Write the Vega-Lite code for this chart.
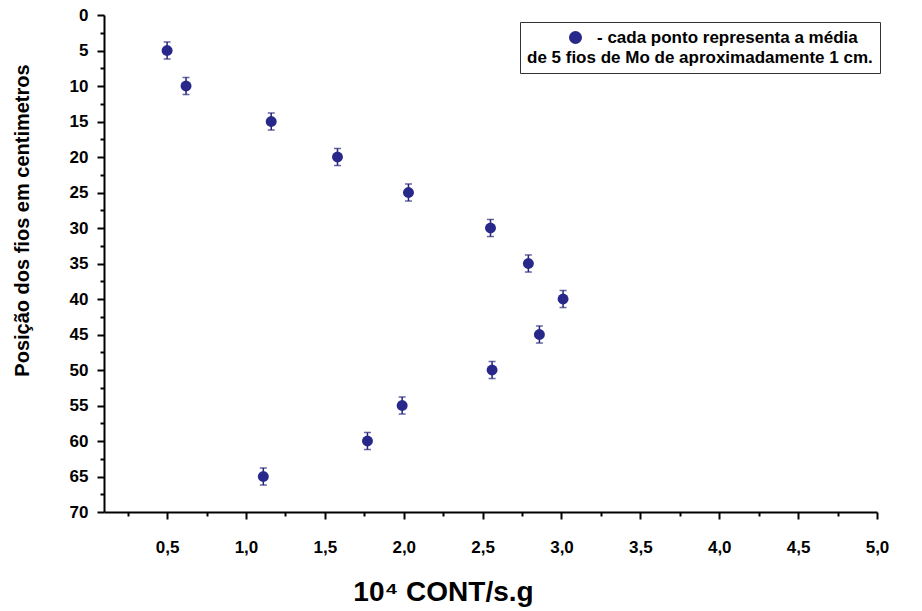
{
  "$schema": "https://vega.github.io/schema/vega-lite/v6.json",
  "width": 773,
  "height": 497,
  "autosize": {"type": "none"},
  "padding": {"left": 104, "top": 15, "right": 45, "bottom": 99},
  "background": "white",
  "config": {"view": {"stroke": null}, "font": "Liberation Sans"},
  "data": {
    "values": [
      {"cont": 0.5, "pos": 5, "err": 1.2, "serie": "- cada ponto representa a média"},
      {"cont": 0.62, "pos": 10, "err": 1.2, "serie": "- cada ponto representa a média"},
      {"cont": 1.16, "pos": 15, "err": 1.2, "serie": "- cada ponto representa a média"},
      {"cont": 1.58, "pos": 20, "err": 1.2, "serie": "- cada ponto representa a média"},
      {"cont": 2.03, "pos": 25, "err": 1.2, "serie": "- cada ponto representa a média"},
      {"cont": 2.55, "pos": 30, "err": 1.2, "serie": "- cada ponto representa a média"},
      {"cont": 2.79, "pos": 35, "err": 1.2, "serie": "- cada ponto representa a média"},
      {"cont": 3.01, "pos": 40, "err": 1.2, "serie": "- cada ponto representa a média"},
      {"cont": 2.86, "pos": 45, "err": 1.2, "serie": "- cada ponto representa a média"},
      {"cont": 2.56, "pos": 50, "err": 1.2, "serie": "- cada ponto representa a média"},
      {"cont": 1.99, "pos": 55, "err": 1.2, "serie": "- cada ponto representa a média"},
      {"cont": 1.77, "pos": 60, "err": 1.2, "serie": "- cada ponto representa a média"},
      {"cont": 1.11, "pos": 65, "err": 1.2, "serie": "- cada ponto representa a média"}
    ]
  },
  "encoding": {
    "x": {
      "field": "cont",
      "type": "quantitative",
      "scale": {"domain": [0.1, 5.0], "nice": false, "zero": false},
      "axis": {
        "title": "10⁴ CONT/s.g",
        "titleFont": "Liberation Sans",
        "titleFontSize": 28,
        "titleFontWeight": "bold",
        "titleColor": "black",
        "titleX": 339,
        "titleY": 88,
        "titleAlign": "center",
        "titleBaseline": "alphabetic",
        "values": [0.25, 0.5, 0.75, 1.0, 1.25, 1.5, 1.75, 2.0, 2.25, 2.5, 2.75, 3.0, 3.25, 3.5, 3.75, 4.0, 4.25, 4.5, 4.75, 5.0],
        "labelExpr": "datum.value % 0.5 === 0 ? replace(format(datum.value, '.1f'), '.', ',') : ''",
        "labelFont": "Liberation Sans",
        "labelFontSize": 17,
        "labelFontWeight": "bold",
        "labelColor": "black",
        "labelPadding": 20,
        "labelOverlap": false,
        "labelBound": false,
        "labelFlush": false,
        "grid": false,
        "domainColor": "black",
        "domainWidth": 2,
        "tickColor": "black",
        "tickWidth": 2,
        "tickSize": {"condition": {"test": "datum.value % 0.5 === 0", "value": 7}, "value": 4}
      }
    },
    "y": {
      "field": "pos",
      "type": "quantitative",
      "scale": {"domain": [0, 70], "reverse": true, "nice": false, "zero": false},
      "axis": {
        "title": "Posição dos fios em centimetros",
        "titleFont": "Liberation Sans",
        "titleFontSize": 20,
        "titleFontWeight": "bold",
        "titleColor": "black",
        "titleX": -82,
        "titleY": 205,
        "titleAlign": "center",
        "titleBaseline": "middle",
        "titleAngle": 270,
        "values": [0, 2.5, 5, 7.5, 10, 12.5, 15, 17.5, 20, 22.5, 25, 27.5, 30, 32.5, 35, 37.5, 40, 42.5, 45, 47.5, 50, 52.5, 55, 57.5, 60, 62.5, 65, 67.5, 70],
        "labelExpr": "datum.value % 5 === 0 ? format(datum.value, 'd') : ''",
        "labelFont": "Liberation Sans",
        "labelFontSize": 17,
        "labelFontWeight": "bold",
        "labelColor": "black",
        "labelPadding": 9,
        "labelOverlap": false,
        "labelBound": false,
        "labelFlush": false,
        "grid": false,
        "domainColor": "black",
        "domainWidth": 2,
        "tickColor": "black",
        "tickWidth": 2,
        "tickSize": {"condition": {"test": "datum.value % 5 === 0", "value": 7}, "value": 4}
      }
    }
  },
  "layer": [
    {
      "mark": {"type": "errorbar", "ticks": {"size": 7, "thickness": 1.5, "color": "#24247a"}, "thickness": 1.5, "color": "#24247a"},
      "encoding": {"yError": {"field": "err"}}
    },
    {
      "mark": {"type": "point", "filled": true, "size": 120, "opacity": 1},
      "encoding": {
        "color": {
          "field": "serie",
          "type": "nominal",
          "scale": {"domain": ["- cada ponto representa a média"], "range": ["#28288a"]},
          "legend": {
            "orient": "none",
            "legendX": 416,
            "legendY": 7,
            "title": "de 5 fios de Mo de aproximadamente 1 cm.",
            "titleOrient": "bottom",
            "titleAnchor": "start",
            "titleFont": "Liberation Sans",
            "titleFontSize": 17,
            "titleFontWeight": "bold",
            "titleColor": "black",
            "titlePadding": 4,
            "titleLimit": 500,
            "labelFont": "Liberation Sans",
            "labelFontSize": 17,
            "labelFontWeight": "bold",
            "labelColor": "black",
            "labelLimit": 500,
            "labelOffset": 13,
            "symbolType": "circle",
            "symbolSize": 170,
            "symbolOffset": 40,
            "padding": 7,
            "strokeColor": "#333333",
            "fillColor": "white"
          }
        }
      }
    }
  ]
}
